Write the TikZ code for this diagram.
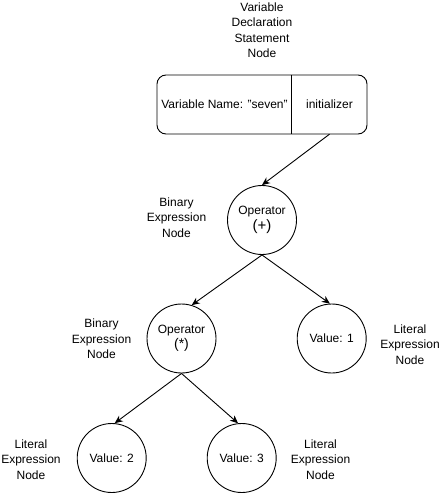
\documentclass[tikz,border=0pt]{standalone}
\usepackage{fontspec}
\setmainfont{Liberation Sans}
\usetikzlibrary{arrows.meta}
\begin{document}
\begin{tikzpicture}[x=1pt,y=-1pt,
  every node/.style={font=\fontsize{12}{15.5}\selectfont},
  circ/.style={draw,circle,minimum size=69pt,inner sep=0pt,align=center,line width=0.9pt},
  lbl/.style={align=center,inner sep=0pt},
  conn/.style={line width=0.9pt,-{Stealth[length=8pt,width=7pt]}}]
\useasboundingbox (0,0) rectangle (442,495);
% declaration node
\node[draw,rounded corners=9pt,minimum width=210pt,minimum height=59pt,line width=0.9pt] (decl) at (262,104.5) {};
\node[inner sep=0pt] (vname) at (224.5,104.5) {Variable Name: "seven"};
\node[minimum width=75pt,minimum height=59pt,inner sep=0pt] (init) at (329.5,104.5) {initializer};
\draw[line width=0.9pt] (init.north west) -- (init.south west);
\node[lbl] (declabel) at (262,30) {Variable\\Declaration\\Statement\\Node};
% circles
\node[circ] (plus) at (262,220) {Operator\\[1pt]{\fontsize{15}{15}\selectfont(+)}};
\node[circ] (star) at (181.5,338.5) {Operator\\{\fontsize{14}{14}\selectfont(*)}};
\node[circ] (v1) at (331.7,338.5) {Value: 1};
\node[circ] (v2) at (111.7,458) {Value: 2};
\node[circ] (v3) at (241.7,458) {Value: 3};
% labels
\node[lbl] (lplus) at (176.5,217.5) {Binary\\Expression\\Node};
\node[lbl] (lstar) at (101.5,339) {Binary\\Expression\\Node};
\node[lbl] (lv1) at (410,344.5) {Literal\\Expression\\Node};
\node[lbl] (lv2) at (31,459.5) {Literal\\Expression\\Node};
\node[lbl] (lv3) at (320.5,459.5) {Literal\\Expression\\Node};
% connectors
\draw[conn] (init.south) -- (plus.north);
\draw[conn] (plus.south) -- (star.73);
\draw[conn] (plus.south) -- (v1.93);
\draw[conn] (star.south) -- (v2.85);
\draw[conn] (star.south) -- (v3.96);
\end{tikzpicture}
\end{document}
